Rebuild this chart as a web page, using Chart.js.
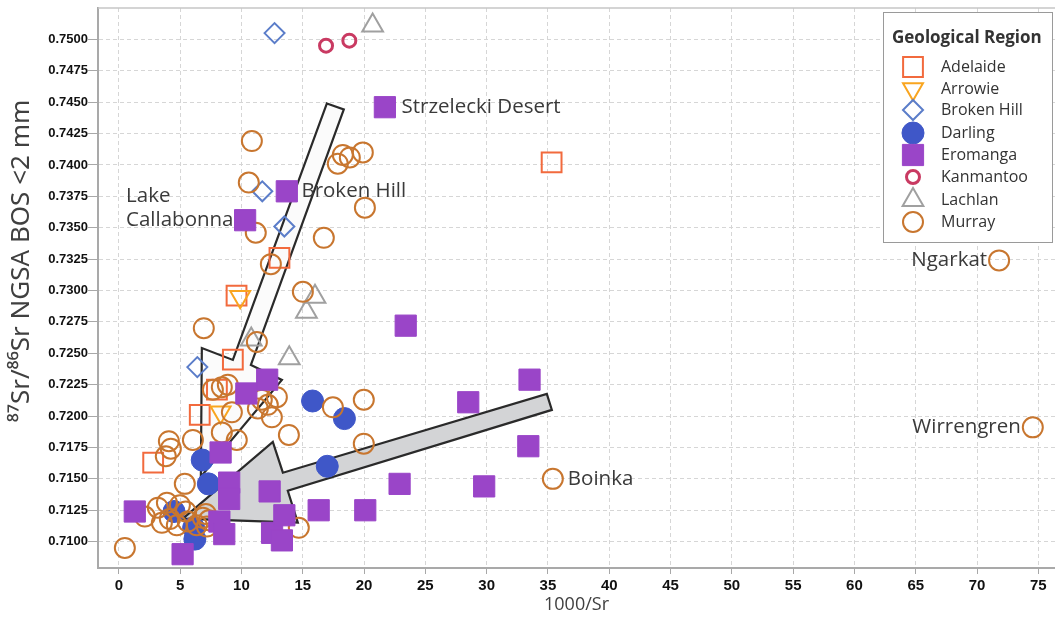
<!DOCTYPE html>
<html><head><meta charset="utf-8">
<script src="https://cdn.jsdelivr.net/npm/chart.js@4.4.1/dist/chart.umd.min.js"></script>
<style>html,body{margin:0;padding:0;background:#fff}canvas{display:block}</style>
</head><body>
<canvas id="c" width="1055" height="624"></canvas>
<script>
// ---- tick labels ----
const xTickLabels = ['0','5','10','15','20','25','30','35','40','45','50','55','60','65','70','75'];
const yTickLabels = ['0.7100','0.7125','0.7150','0.7175','0.7200','0.7225','0.7250','0.7275','0.7300','0.7325','0.7350','0.7375','0.7400','0.7425','0.7450','0.7475','0.7500'];
const xTitle = '1000/Sr';
const yTitle = '⁸⁷Sr/⁸⁶Sr NGSA BOS <2 mm';

// ---- series values [1000/Sr, 87Sr/86Sr] ----
const adelaide = [[35.3,0.7402],[13.1,0.7326],[9.6,0.7296],[9.3,0.7245],[8.0,0.7221],[6.6,0.7201],[2.8,0.7163]];
const arrowie = [[9.9,0.7295],[8.3,0.7203]];
const brokenHill = [[12.7,0.7505],[11.7,0.7379],[13.5,0.7351],[6.4,0.7239]];
const darling = [[15.8,0.7212],[18.4,0.7198],[17.0,0.7160],[6.8,0.7165],[7.3,0.7146],[4.5,0.7124],[6.1,0.7111],[6.2,0.7102]];
const eromanga = [[21.7,0.7446],[13.7,0.7379],[10.3,0.7356],[23.4,0.7272],[12.1,0.7229],[10.4,0.7218],[8.3,0.7171],[9.0,0.7147],[9.0,0.7134],[12.3,0.7140],[1.3,0.7124],[8.2,0.7116],[8.6,0.7106],[5.2,0.7090],[12.5,0.7107],[13.3,0.7101],[13.5,0.7121],[16.3,0.7125],[20.1,0.7125],[22.9,0.7146],[29.8,0.7144],[28.5,0.7211],[33.4,0.7176],[33.5,0.7229]];
const kanmantoo = [[16.9,0.7495],[18.8,0.7499]];
const lachlan = [[20.7,0.7511],[16.0,0.7295],[15.3,0.7283],[10.8,0.7261],[13.9,0.7246]];
const murray = [[35.4,0.7150],[71.8,0.7324],[74.55,0.7191],
  [10.85,0.7419],[10.6,0.7386],[11.17,0.7346],[17.86,0.7401],[18.27,0.7408],[18.84,0.7406],[19.9,0.7410],[20.07,0.7366],[16.72,0.7342],[12.4,0.7321],[15.01,0.7299],[6.93,0.7270],[11.26,0.7259],
  [7.67,0.7221],[8.4,0.7223],[8.89,0.7225],[9.22,0.7203],[8.4,0.7187],[9.62,0.7181],[6.04,0.7181],[11.66,0.7213],[11.34,0.7206],[12.15,0.7209],[12.48,0.7199],[12.89,0.7215],[13.87,0.7185],[17.46,0.7207],[19.98,0.7213],[19.98,0.7178],[4.08,0.7180],[4.24,0.7174],[3.83,0.7168],[5.38,0.7146],
  [2.12,0.7120],[3.18,0.7127],[3.92,0.7131],[4.98,0.7129],[5.46,0.7124],[3.51,0.7115],[4.16,0.7118],[4.73,0.7113],[5.63,0.7116],[6.85,0.7119],[7.18,0.7112],[7.1,0.7122],[7.34,0.7117],[0.49,0.7095],[14.68,0.7111],[6.36,0.7113]];

// ---- point labels (text anchored to a data point) ----
const pointLabels = [
  {lines:['Strzelecki Desert'], series:'Eromanga', index:0, side:'right', gap:6},
  {lines:['Broken Hill'], series:'Eromanga', index:1, side:'right', gap:4},
  {lines:['Lake','Callabonna'], series:'Eromanga', index:2, side:'left', gap:1},
  {lines:['Boinka'], series:'Murray', index:0, side:'right', gap:5},
  {lines:['Ngarkat'], series:'Murray', index:1, side:'left', gap:2},
  {lines:['Wirrengren'], series:'Murray', index:2, side:'left', gap:2}
];

// ---- block arrows (data space vertices) ----
const arrowUp = [[16.97,0.74490],[18.35,0.74442],[10.77,0.72407],[13.30,0.72288],[6.69,0.71517],[6.77,0.72542],[9.30,0.72447]];
const arrowRight = [[5.22,0.71183],[12.56,0.71795],[13.38,0.71549],[34.91,0.72177],[35.32,0.72049],[13.78,0.71405],[14.60,0.71151]];

const X_MIN = -1.7, X_MAX = 76.36, Y_MIN = 0.7079, Y_MAX = 0.7525;

const toPts = a => a.map(([x,y]) => ({x, y}));
const ds = (label, arr, style, radius, color, fill, bw, order, rot) => ({
  label, data: toPts(arr), pointStyle: style, pointRadius: radius, pointHoverRadius: radius,
  pointRotation: rot || 0, borderColor: color, pointBorderColor: color,
  backgroundColor: fill, pointBackgroundColor: fill, borderWidth: bw, pointBorderWidth: bw,
  pointHoverBorderWidth: bw, order, showLine: false
});

const datasets = [
  ds('Adelaide', adelaide, 'rect', 14, '#F26A3D', 'rgba(0,0,0,0)', 2, 4),
  ds('Arrowie', arrowie, 'triangle', 11.5, '#F9A51F', 'rgba(0,0,0,0)', 2, 2, 180),
  ds('Broken Hill', brokenHill, 'rectRot', 10, '#5B7DC9', 'rgba(0,0,0,0)', 2, 2),
  ds('Darling', darling, 'circle', 11, '#3F57C8', '#3F57C8', 1, 5),
  ds('Eromanga', eromanga, 'rect', 15, '#9A45C8', '#9A45C8', 1, 0),
  ds('Kanmantoo', kanmantoo, 'circle', 6.5, '#C93A62', 'rgba(0,0,0,0)', 3, 2),
  ds('Lachlan', lachlan, 'triangle', 12, '#A0A0A0', 'rgba(0,0,0,0)', 2, 3),
  ds('Murray', murray, 'circle', 10, '#C8762F', 'rgba(0,0,0,0)', 2, 1)
];

function marker(ctx, d, x, y) {
  const r = d.pointRadius, style = d.pointStyle, rot = (d.pointRotation || 0) * Math.PI / 180;
  ctx.save();
  ctx.lineWidth = d.pointBorderWidth; ctx.strokeStyle = d.pointBorderColor; ctx.fillStyle = d.pointBackgroundColor;
  ctx.beginPath();
  if (style === 'circle') ctx.arc(x, y, r, 0, Math.PI * 2);
  else if (style === 'rect') { const s = r * Math.SQRT1_2; ctx.rect(x - s, y - s, 2 * s, 2 * s); }
  else if (style === 'rectRot') { ctx.moveTo(x, y - r); ctx.lineTo(x + r, y); ctx.lineTo(x, y + r); ctx.lineTo(x - r, y); ctx.closePath(); }
  else if (style === 'triangle') {
    for (let k = 0; k < 3; k++) { const a = rot + k * 2 * Math.PI / 3; const px = x + Math.sin(a) * r, py = y - Math.cos(a) * r; k ? ctx.lineTo(px, py) : ctx.moveTo(px, py); }
    ctx.closePath();
  }
  ctx.fill(); ctx.stroke(); ctx.restore();
}

const decor = {
  id: 'decor',
  beforeDatasetsDraw(chart) {
    const {ctx, chartArea: a, scales: {x, y}} = chart;
    ctx.save();
    ctx.strokeStyle = '#c6c6c6'; ctx.lineWidth = 1.5;
    ctx.beginPath(); ctx.moveTo(a.left, a.top); ctx.lineTo(a.right, a.top); ctx.stroke();
    // y axis title (placed like the reference, slightly above centre)
    ctx.save();
    ctx.translate(22, 261); ctx.rotate(-Math.PI / 2);
    ctx.font = '26px "Noto Sans", "DejaVu Sans"'; ctx.fillStyle = '#404040';
    ctx.textAlign = 'center'; ctx.textBaseline = 'middle';
    ctx.fillText(yTitle, 0, 0);
    ctx.restore();
    ctx.beginPath(); ctx.rect(a.left, a.top, a.right - a.left, a.bottom - a.top); ctx.clip();
    const poly = (pts, fill) => {
      ctx.beginPath();
      pts.forEach(([vx, vy], i) => { const px = x.getPixelForValue(vx), py = y.getPixelForValue(vy); i ? ctx.lineTo(px, py) : ctx.moveTo(px, py); });
      ctx.closePath(); ctx.fillStyle = fill; ctx.fill();
      ctx.lineWidth = 2.2; ctx.strokeStyle = '#2a2a2a'; ctx.lineJoin = 'miter'; ctx.stroke();
    };
    poly(arrowUp, '#fbfbfb');
    poly(arrowRight, '#d3d4d6');
    ctx.restore();
  },
  afterDatasetsDraw(chart) {
    const {ctx, scales: {x, y}} = chart;
    ctx.save();
    // point labels
    ctx.font = '20.5px "Open Sans"'; ctx.fillStyle = '#3a3a3a'; ctx.textBaseline = 'middle';
    pointLabels.forEach(l => {
      const set = datasets.find(s => s.label === l.series);
      const d = set.data[l.index];
      const px = x.getPixelForValue(d.x), py = y.getPixelForValue(d.y);
      const off = set.pointStyle === 'rect' ? set.pointRadius * Math.SQRT1_2 : set.pointRadius;
      const lh = 24, n = l.lines.length;
      ctx.textAlign = 'left';
      if (l.side === 'right') {
        l.lines.forEach((t, i) => ctx.fillText(t, px + off + l.gap, py - (n - 1 - i) * lh));
      } else {
        const w = Math.max(...l.lines.map(t => ctx.measureText(t).width));
        l.lines.forEach((t, i) => ctx.fillText(t, px - off - l.gap - w, py - (n - 1 - i) * lh));
      }
    });
    // legend
    const L = 883, T = 12, W = 169, H = 230;
    ctx.fillStyle = '#ffffff'; ctx.fillRect(L, T, W, H);
    ctx.strokeStyle = '#9a9a9a'; ctx.lineWidth = 1; ctx.strokeRect(L + 0.5, T + 0.5, W, H);
    ctx.fillStyle = '#333333'; ctx.textAlign = 'left'; ctx.textBaseline = 'middle';
    ctx.font = 'bold 17px "Open Sans"';
    ctx.fillText('Geological Region', 892, 38);
    ctx.font = '16px "Open Sans"';
    const rows = [67, 89, 110, 133, 155, 177, 200, 222];
    datasets.forEach((d, i) => {
      marker(ctx, d, 913, rows[i]);
      ctx.fillStyle = '#333333';
      ctx.fillText(d.label, 941, rows[i]);
    });
    ctx.restore();
  }
};

const tickFont = {family: '"Liberation Sans", Arial, sans-serif', size: 13, weight: 'bold'};
const gridOpts = {color: '#d6d6d6', lineWidth: 1, tickLength: 6, tickColor: '#a8a8a8', tickWidth: 1};
const borderOpts = {display: true, color: '#a9a9a9', width: 2, dash: [4, 3]};
const labelFor = (labels) => (v) => { const t = labels.find(s => Math.abs(parseFloat(s) - v) < 1e-9); return t === undefined ? null : t; };

new Chart(document.getElementById('c'), {
  type: 'scatter',
  data: {datasets},
  plugins: [decor],
  options: {
    responsive: false, animation: false, devicePixelRatio: 1,
    layout: {autoPadding: false, padding: {top: 8, left: 0, right: 0, bottom: 0}},
    plugins: {legend: {display: false}, tooltip: {enabled: false}},
    scales: {
      x: {
        type: 'linear', min: X_MIN, max: X_MAX,
        afterBuildTicks: ax => { ax.ticks = xTickLabels.map(v => ({value: parseFloat(v)})); },
        afterFit: s => { s.height = 56; s.paddingLeft = 0; s.paddingRight = 0; },
        ticks: {autoSkip: false, maxRotation: 0, padding: 3, color: '#111', font: {family: '"Liberation Sans Narrow", "Liberation Sans", Arial, sans-serif', size: 15, weight: 'bold'},
          callback: labelFor(xTickLabels)},
        grid: gridOpts, border: borderOpts,
        title: {display: true, text: xTitle, color: '#404040', font: {family: '"Open Sans"', size: 18}, padding: {top: 0, bottom: 8}}
      },
      y: {
        type: 'linear', min: Y_MIN, max: Y_MAX,
        // edge ticks carry no label so no overhang padding is added at the top
        afterBuildTicks: ax => { ax.ticks = [{value: Y_MIN}, ...yTickLabels.map(v => ({value: parseFloat(v)})), {value: Y_MAX}]; },
        afterFit: s => { s.width = 98; s.paddingTop = 0; s.paddingBottom = 0; },
        ticks: {autoSkip: false, padding: 0, color: '#111', font: tickFont, callback: labelFor(yTickLabels)},
        grid: {color: '#d6d6d6', lineWidth: 1, tickLength: 10, tickColor: '#a8a8a8', tickWidth: 1},
        border: borderOpts,
        title: {display: false, text: yTitle}
      }
    }
  }
});
</script></body></html>
